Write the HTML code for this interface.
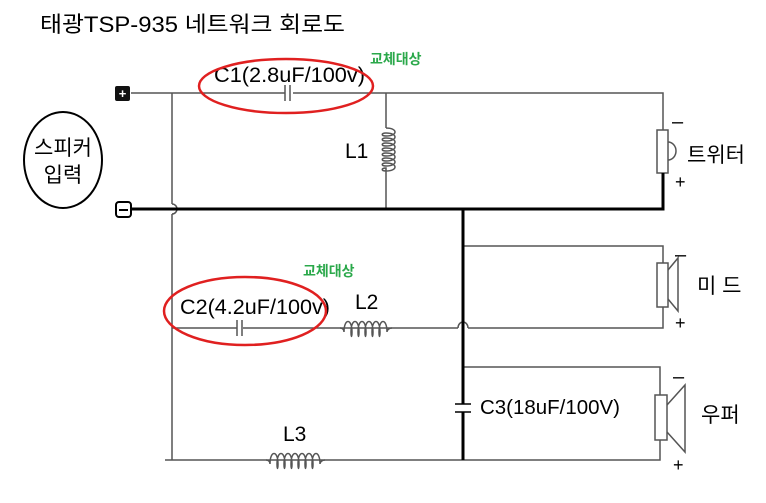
<!DOCTYPE html>
<html><head><meta charset="utf-8"><style>
html,body{margin:0;padding:0;background:#fff;width:766px;height:503px;overflow:hidden}
svg{display:block}
text{font-family:"Liberation Sans","Noto Sans CJK KR",sans-serif;fill:#000}
</style></head><body>
<svg width="766" height="503" viewBox="0 0 766 503">
<g fill="none" stroke="#555" stroke-width="1.5">
<path d="M131 93 H285 M293 93 H663 V130"/>
<path d="M285 85 V101 M290 85 V101"/>
<path d="M172 93 V204 M172 214 V460"/>
<path d="M172 204 a5 5 0 0 1 0 10"/>
<path d="M386 93 V128 M386 172 V209"/>
<path d="M386 128 c12 0 12 8 0 8 c-5 0 -5 -3 0 -3 c12 0 12 8 0 8 c-5 0 -5 -3 0 -3 c12 0 12 8 0 8 c-5 0 -5 -3 0 -3 c12 0 12 8 0 8 c-5 0 -5 -3 0 -3 c12 0 12 8 0 8 c-5 0 -5 -3 0 -3 c12 0 12 8 0 8 c-5 0 -5 -3 0 -3 c12 0 12 8 0 8 c-5 0 -5 -3 0 -3 c12 0 12 8 0 8 c-5 0 -5 -3 0 -3 V172"/>
<path d="M463 246 H663 V263 M663 307 V328 H468 M458 328 H172"/>
<path d="M458 328 a5 6 0 0 1 10 0"/>
<path d="M340 328 c3 0 4 2 4 4 c0 -14 8 -14 8 0 c0 6 -1 6 -1 0 c0 -14 8 -14 8 0 c0 6 -1 6 -1 0 c0 -14 8 -14 8 0 c0 6 -1 6 -1 0 c0 -14 8 -14 8 0 c0 6 -1 6 -1 0 c0 -14 8 -14 8 0 c0 6 -1 6 -1 0 c0 -14 8 -14 8 0 c0 -2 2 -4 5 -4"/>
<path d="M266 460 c3 0 4 2 4 4 c0 -14 8 -14 8 0 c0 6 -1 6 -1 0 c0 -14 8 -14 8 0 c0 6 -1 6 -1 0 c0 -14 8 -14 8 0 c0 6 -1 6 -1 0 c0 -14 8 -14 8 0 c0 6 -1 6 -1 0 c0 -14 8 -14 8 0 c0 6 -1 6 -1 0 c0 -14 8 -14 8 0 c0 6 -1 6 -1 0 c0 -14 8 -14 8 0 c0 -2 2 -4 5 -4"/>
<path d="M463 367 H660 V395 M660 440 V460 H165"/>
<rect x="657" y="130" width="11" height="43" fill="#fff"/>
<path d="M668 142 a8 9 0 0 1 0 18"/>
<rect x="657" y="263" width="11" height="44" fill="#fff"/>
<path d="M668 270 L678 258 V311 L668 299"/>
<rect x="655" y="395" width="12" height="45" fill="#fff"/>
<path d="M667 405 L685 385 V452 L667 432"/>
</g>
<rect x="237" y="320" width="6" height="16" fill="#fff"/>
<path d="M237 320 V336 M242 320 V336" stroke="#555" stroke-width="1.5"/>
<g fill="none" stroke="#000" stroke-width="3">
<path d="M131 209 H663 V173"/>
<path d="M463 209 V404 M463 412 V460"/>
</g>
<path d="M455 404 H471 M455 412 H471" stroke="#000" stroke-width="1.5"/>
<rect x="115" y="86" width="15" height="15" rx="2" fill="#111"/>
<text x="122.5" y="98" font-size="13" font-weight="bold" text-anchor="middle" style="fill:#fff">+</text>
<rect x="116" y="202" width="15" height="15" rx="3" fill="#fff" stroke="#000" stroke-width="2"/>
<path d="M119 210 H128" stroke="#000" stroke-width="2"/>
<ellipse cx="63" cy="160" rx="39" ry="48" fill="none" stroke="#000" stroke-width="2"/>
<text x="63" y="155" font-size="21" text-anchor="middle">스피커</text>
<text x="63" y="182" font-size="21" text-anchor="middle">입력</text>
<text x="40" y="32" font-size="22" textLength="305" lengthAdjust="spacingAndGlyphs">태광TSP-935 네트워크 회로도</text>
<text x="214" y="82" font-size="21" textLength="151" lengthAdjust="spacingAndGlyphs">C1(2.8uF/100v)</text>
<text x="370" y="64" font-size="14" font-weight="bold" style="fill:#2aa84a">교체대상</text>
<ellipse cx="286" cy="86" rx="87" ry="27" fill="none" stroke="#e02020" stroke-width="2.5"/>
<text x="345" y="158" font-size="21">L1</text>
<text x="672" y="128" font-size="20">–</text>
<text x="675" y="188" font-size="18">+</text>
<text x="687" y="162" font-size="21">트위터</text>
<text x="303" y="276" font-size="14" font-weight="bold" style="fill:#2aa84a">교체대상</text>
<text x="180" y="314" font-size="21" textLength="150" lengthAdjust="spacingAndGlyphs">C2(4.2uF/100v)</text>
<ellipse cx="245" cy="311" rx="81" ry="34" fill="none" stroke="#e02020" stroke-width="2.5"/>
<text x="355" y="309" font-size="21">L2</text>
<text x="675" y="261" font-size="20">–</text>
<text x="675" y="329" font-size="18">+</text>
<text x="697" y="293" font-size="21">미 드</text>
<text x="480" y="414" font-size="20" textLength="140" lengthAdjust="spacingAndGlyphs">C3(18uF/100V)</text>
<text x="673" y="383" font-size="20">–</text>
<text x="673" y="471" font-size="18">+</text>
<text x="701" y="422" font-size="21">우퍼</text>
<text x="283" y="441" font-size="21">L3</text>
</svg>
</body></html>
